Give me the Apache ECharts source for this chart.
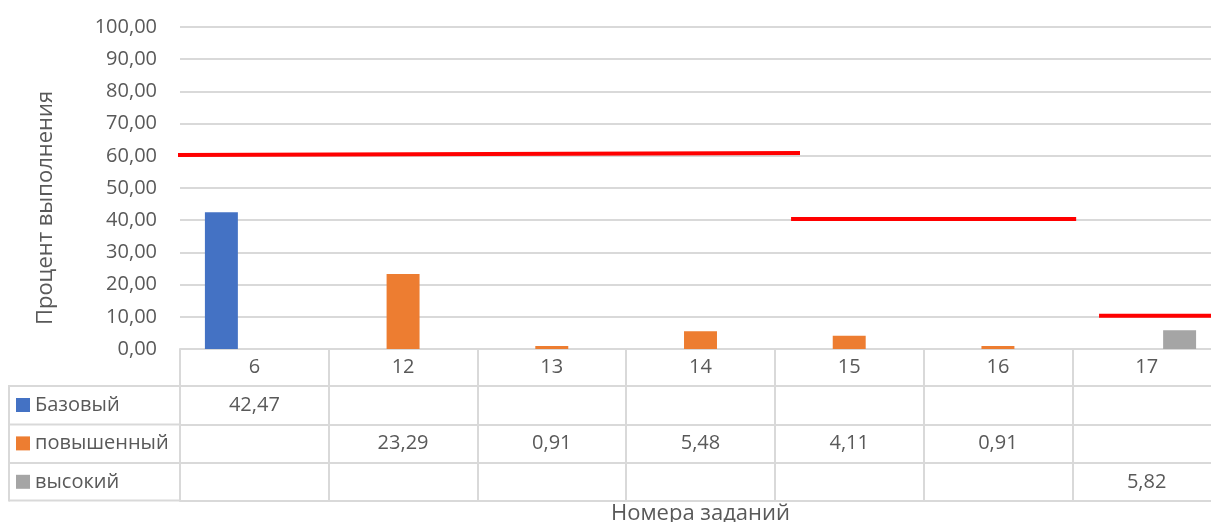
<!DOCTYPE html>
<html>
<head>
<meta charset="utf-8">
<script src="https://cdn.jsdelivr.net/npm/echarts@6/dist/echarts.min.js"></script>
<style>
html,body{margin:0;padding:0;background:#fff;}
#c{width:1211px;height:522px;}
</style>
</head>
<body>
<div id="c"></div>
<script>
// ---- data ----
var categories = ['6', '12', '13', '14', '15', '16', '17'];
var seriesNames = ['Базовый', 'повышенный', 'высокий'];
var baseValues = [42.47, null, null, null, null, null, null];
var raisedValues = [null, 23.29, 0.91, 5.48, 4.11, 0.91, null];
var highValues = [null, null, null, null, null, null, 5.82];
var yTicks = [0, 10, 20, 30, 40, 50, 60, 70, 80, 90, 100];
// threshold lines: x in category-index units, [xStart, yStart], [xEnd, yEnd]
var thresholdBase = [[-0.574, 60.2], [3.669, 60.9]];
var thresholdRaised = [[3.609, 40.4], [5.526, 40.4]];
var thresholdHigh = [[5.68, 10.3], [6.5, 10.3]];
var yAxisTitle = 'Процент выполнения';
var xAxisTitle = 'Номера заданий';

// ---- style ----
var FONT = '"Open Sans", sans-serif';
var TXT = '#595959';
var LINE = '#d9d9d9';
var FS = 20;
var TFS = 22;
var colors = ['#4472C4', '#ED7D31', '#A5A5A5'];
var rows = [baseValues, raisedValues, highValues];
var rowOffsets = [37, 75.5, 114];
function fmt(v) { return (v === null || v === undefined) ? '' : v.toFixed(2).replace('.', ','); }

var gridLeft = 180, gridTop = 27, gridBottomY = 349, gridWidth = 1041;

var xAxes = [{
  type: 'category', data: categories, gridIndex: 0, position: 'bottom',
  axisLine: { show: true, lineStyle: { color: LINE, width: 2 } },
  axisTick: { show: true, length: 151.5, interval: 0, lineStyle: { color: LINE, width: 2 } },
  axisLabel: { interval: 0, color: TXT, fontFamily: FONT, fontSize: FS, margin: 18, verticalAlign: 'middle' },
  name: xAxisTitle, nameLocation: 'middle', nameGap: 165,
  nameTextStyle: { color: TXT, fontFamily: FONT, fontSize: TFS, verticalAlign: 'middle' }
}];
rows.forEach(function (row, r) {
  xAxes.push({
    type: 'category', data: categories, gridIndex: 0, position: 'bottom', offset: rowOffsets[r],
    axisLine: { show: true, lineStyle: { color: LINE, width: 2 } },
    axisTick: { show: false },
    axisLabel: {
      interval: 0, color: TXT, fontFamily: FONT, fontSize: FS, margin: 19, verticalAlign: 'middle',
      formatter: function (v, idx) { return fmt(row[idx]); }
    }
  });
});
// bottom line of table
xAxes.push({
  type: 'category', data: categories, gridIndex: 0, position: 'bottom', offset: 151.5,
  axisLine: { show: true, lineStyle: { color: LINE, width: 2 } },
  axisTick: { show: false }, axisLabel: { show: false }
});
// hidden value axis for threshold lines
xAxes.push({ type: 'value', gridIndex: 0, min: -0.5, max: categories.length - 0.5, show: false });
var valueAxisIndex = xAxes.length - 1;

function seg(data) {
  return {
    type: 'line', xAxisIndex: valueAxisIndex, data: data, symbol: 'none', clip: false,
    lineStyle: { color: '#FF0000', width: 4 }, silent: true, z: 5
  };
}

var legends = seriesNames.map(function (n, i) {
  return {
    data: [n], left: 16, top: 394 + i * 38.4, orient: 'vertical',
    icon: 'rect', itemWidth: 14, itemHeight: 14, itemGap: 6, padding: 0,
    textStyle: { color: TXT, fontFamily: FONT, fontSize: FS, lineHeight: 22 },
    selectedMode: false
  };
});

var option = {
  animation: false,
  backgroundColor: '#fff',
  color: colors,
  grid: { left: gridLeft, top: gridTop, width: gridWidth, bottom: 522 - gridBottomY, containLabel: false, outerBoundsMode: 'none' },
  legend: legends,
  xAxis: xAxes,
  yAxis: {
    type: 'value', min: yTicks[0], max: yTicks[yTicks.length - 1], interval: 10,
    axisLine: { show: false }, axisTick: { show: false },
    splitLine: { lineStyle: { color: LINE, width: 2 } },
    axisLabel: { color: TXT, fontFamily: FONT, fontSize: FS, margin: 23, formatter: fmt }
  },
  series: [
    { name: seriesNames[0], type: 'bar', data: baseValues, barGap: '0%', barCategoryGap: '33.5%' },
    { name: seriesNames[1], type: 'bar', data: raisedValues, barGap: '0%', barCategoryGap: '33.5%' },
    { name: seriesNames[2], type: 'bar', data: highValues, barGap: '0%', barCategoryGap: '33.5%' },
    seg(thresholdBase), seg(thresholdRaised), seg(thresholdHigh)
  ],
  graphic: [
    { type: 'text', x: 46, y: 208, rotation: Math.PI / 2,
      style: { text: yAxisTitle, fill: TXT, font: TFS + 'px ' + FONT, align: 'center', verticalAlign: 'middle' } },
    { type: 'line', shape: { x1: 9, y1: 386, x2: 180, y2: 386 }, style: { stroke: LINE, lineWidth: 2 } },
    { type: 'line', shape: { x1: 9, y1: 424.5, x2: 180, y2: 424.5 }, style: { stroke: LINE, lineWidth: 2 } },
    { type: 'line', shape: { x1: 9, y1: 463, x2: 180, y2: 463 }, style: { stroke: LINE, lineWidth: 2 } },
    { type: 'line', shape: { x1: 9, y1: 500.5, x2: 180, y2: 500.5 }, style: { stroke: LINE, lineWidth: 2 } },
    { type: 'line', shape: { x1: 9, y1: 385, x2: 9, y2: 501.5 }, style: { stroke: LINE, lineWidth: 2 } }
  ]
};
var chart = echarts.init(document.getElementById('c'), null, { renderer: 'canvas' });
chart.setOption(option);
</script>
</body>
</html>
